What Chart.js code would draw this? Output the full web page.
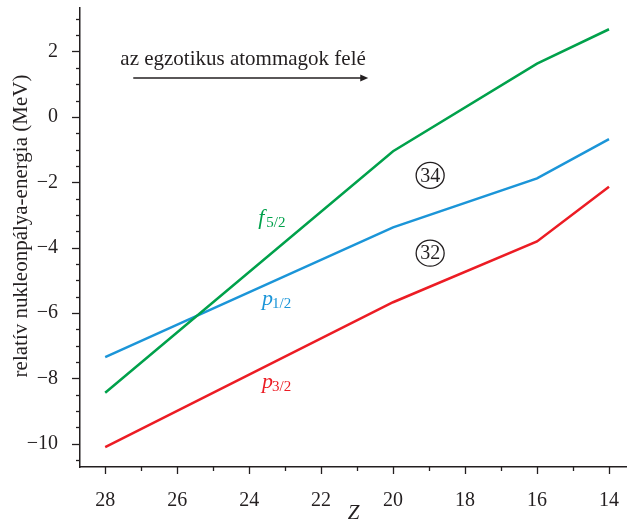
<!DOCTYPE html>
<html><head><meta charset="utf-8">
<script src="https://cdn.jsdelivr.net/npm/chart.js@4.4.0/dist/chart.umd.min.js"></script>
<style>html,body{margin:0;padding:0;background:#fff}#wrap{width:627px;height:522px}</style>
</head><body><div id="wrap"><canvas id="c" width="627" height="522"></canvas></div>
<script>
// ---- data ----
const zValues = [28, 20, 16, 14];
const f52 = [-8.44, -1.05, 1.63, 2.68];
const p12 = [-7.35, -3.38, -1.88, -0.68];
const p32 = [-10.1, -5.67, -3.81, -2.14];
const xTickLabels = [28, 26, 24, 22, 20, 18, 16, 14];
const yTickLabels = [2, 0, -2, -4, -6, -8, -10];
const xMinorTicks = [27, 25, 23, 21, 19, 17, 15];
const yTitle = 'relatív nukleonpálya-energia (MeV)';
const xTitle = 'Z';
const arrowText = 'az egzotikus atommagok felé';
const circled = [{text: '34', z: 18.97, v: -1.79}, {text: '32', z: 18.97, v: -4.17}];

const INK = '#231f20';
const GREEN = '#00a14b', BLUE = '#1b95d8', RED = '#ec1c24';
const SERIF = "'Liberation Serif', 'DejaVu Serif', serif";

const pts = arr => zValues.map((z, i) => ({x: z, y: arr[i]}));
const fmt = v => (v < 0 ? '\u2212' + Math.abs(v) : String(v));

const seriesLabels = [
  {main: 'f', sub: '5/2', color: GREEN, z: 23.75, v: -3.28, gap: 2},
  {main: 'p', sub: '1/2', color: BLUE, z: 23.64, v: -5.76, gap: -1},
  {main: 'p', sub: '3/2', color: RED, z: 23.64, v: -8.30, gap: -1}
];

const overlay = {
  id: 'overlay',
  afterDraw(chart) {
    const ctx = chart.ctx, xs = chart.scales.x, ys = chart.scales.y, ca = chart.chartArea;
    ctx.save();
    ctx.strokeStyle = INK; ctx.lineWidth = 1.3;
    for (let k = -21; k <= 6; k++) {
      const v = k / 2;
      const major = yTickLabels.includes(v);
      const py = Math.round(ys.getPixelForValue(v)) + 0.5;
      ctx.beginPath(); ctx.moveTo(ca.left, py); ctx.lineTo(ca.left - (major ? 8 : 4), py); ctx.stroke();
    }
    xTickLabels.concat(xMinorTicks).forEach(z => {
      const major = xTickLabels.includes(z);
      const px = Math.round(xs.getPixelForValue(z)) + 0.5;
      ctx.beginPath(); ctx.moveTo(px, ca.bottom); ctx.lineTo(px, ca.bottom + (major ? 7 : 4)); ctx.stroke();
    });
    ctx.fillStyle = INK;
    ctx.font = '21px ' + SERIF;
    ctx.textAlign = 'center'; ctx.textBaseline = 'middle';
    ctx.save();
    ctx.translate(21, 226);
    ctx.rotate(-Math.PI / 2);
    ctx.fillText(yTitle, 0, 0);
    ctx.restore();
    ctx.font = '21px ' + SERIF;
    ctx.textAlign = 'left'; ctx.textBaseline = 'alphabetic';
    ctx.fillText(arrowText, xs.getPixelForValue(27.58), ys.getPixelForValue(1.58));
    const ax0 = xs.getPixelForValue(27.22), ax1 = xs.getPixelForValue(20.69), ay = ys.getPixelForValue(1.19);
    ctx.lineWidth = 1.5;
    ctx.beginPath(); ctx.moveTo(ax0, ay); ctx.lineTo(ax1 - 6, ay); ctx.stroke();
    ctx.beginPath(); ctx.moveTo(ax1, ay); ctx.lineTo(ax1 - 8, ay - 3.5); ctx.lineTo(ax1 - 8, ay + 3.5); ctx.closePath(); ctx.fill();
    seriesLabels.forEach(l => {
      const x = xs.getPixelForValue(l.z), y = ys.getPixelForValue(l.v);
      ctx.fillStyle = l.color;
      ctx.font = 'italic 22px ' + SERIF;
      ctx.fillText(l.main, x, y);
      const w = ctx.measureText(l.main).width;
      ctx.font = '15px ' + SERIF;
      ctx.fillText(l.sub, x + w + l.gap, y + 3);
    });
    ctx.fillStyle = INK; ctx.strokeStyle = INK; ctx.lineWidth = 1.3;
    circled.forEach(c => {
      const x = xs.getPixelForValue(c.z), y = ys.getPixelForValue(c.v);
      ctx.beginPath(); ctx.ellipse(x, y, 14, 13, 0, 0, Math.PI * 2); ctx.stroke();
      ctx.font = '20px ' + SERIF;
      ctx.textAlign = 'center'; ctx.textBaseline = 'middle';
      ctx.fillText(c.text, x, y + 1);
    });
    ctx.restore();
  }
};

new Chart(document.getElementById('c'), {
  type: 'line',
  data: {
    datasets: [
      {label: 'f5/2', data: pts(f52), borderColor: GREEN},
      {label: 'p1/2', data: pts(p12), borderColor: BLUE},
      {label: 'p3/2', data: pts(p32), borderColor: RED}
    ]
  },
  options: {
    responsive: false,
    devicePixelRatio: 1,
    animation: false,
    layout: {padding: {top: 8, right: 0, left: 0, bottom: 0}},
    elements: {line: {borderWidth: 2.5, tension: 0, fill: false}, point: {radius: 0}},
    plugins: {legend: {display: false}, tooltip: {enabled: false}},
    scales: {
      x: {
        type: 'linear', position: 'bottom', reverse: true, min: 13.5, max: 28.7,
        afterBuildTicks: s => { s.ticks = xTickLabels.map(v => ({value: v})); },
        afterFit: s => { s.height = 55; s.paddingLeft = 0; s.paddingRight = 0; s.paddingTop = 0; s.paddingBottom = 0; },
        grid: {display: false},
        border: {display: true, color: INK, width: 1.5},
        ticks: {color: INK, font: {family: SERIF, size: 20}, padding: 14, maxRotation: 0, callback: v => fmt(v)},
        title: {display: true, text: xTitle, color: INK, font: {family: SERIF, size: 21, style: 'italic', lineHeight: 0.8}, padding: 0}
      },
      y: {
        type: 'linear', position: 'left', min: -10.71, max: 3.33,
        afterBuildTicks: s => { s.ticks = yTickLabels.map(v => ({value: v})); },
        afterFit: s => { s.width = 80; s.paddingLeft = 0; s.paddingRight = 0; s.paddingTop = 0; s.paddingBottom = 0; },
        grid: {display: false},
        border: {display: true, color: INK, width: 1.5},
        ticks: {color: INK, font: {family: SERIF, size: 20}, padding: 14, callback: v => fmt(v)}
      }
    }
  },
  plugins: [overlay]
});
</script>
</body></html>
